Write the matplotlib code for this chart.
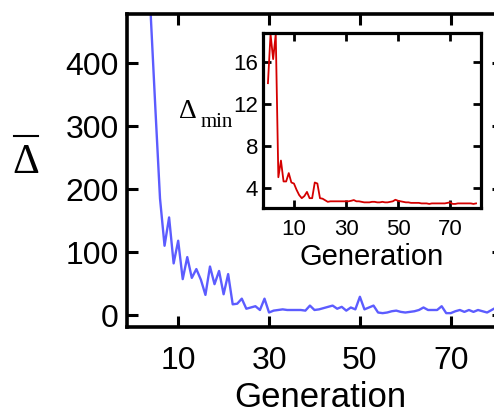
import matplotlib
matplotlib.use("Agg")
import matplotlib.pyplot as plt
from matplotlib.lines import Line2D
import numpy as np

generations = list(range(0, 81))
delta_mean = [2000, 1500, 1000, 700, 470, 325, 185, 110, 155, 82,
              118, 57, 92, 59, 73, 56, 32, 77, 49, 70,
              33, 65, 17, 18, 26, 10, 12, 14, 8, 26,
              4, 7, 8, 9, 8, 8, 8, 8, 7, 15,
              8, 9, 11, 13, 15, 10, 13, 7, 12, 9,
              29, 9, 12, 15, 4, 3, 4, 6, 7, 5,
              4, 5, 6, 8, 12, 8, 8, 8, 14, 3,
              3, 6, 8, 5, 8, 5, 8, 6, 4, 8, 12]
delta_min = [14.0, 18.7, 16.3, 18.7, 5.0, 6.6, 4.6, 4.6, 5.4, 4.5,
             4.4, 3.8, 3.3, 3.0, 3.2, 3.6, 3.0, 3.0, 4.5, 4.4,
             3.0, 2.95, 2.8, 2.65, 2.7, 2.7, 2.7, 2.7, 2.7, 2.7,
             2.7, 2.7, 2.75, 2.82, 2.7, 2.7, 2.65, 2.6, 2.6, 2.6,
             2.65, 2.65, 2.6, 2.6, 2.65, 2.6, 2.6, 2.65, 2.7, 2.85,
             2.75, 2.7, 2.65, 2.6, 2.6, 2.55, 2.55, 2.55, 2.55, 2.5,
             2.5, 2.5, 2.45, 2.5, 2.5, 2.5, 2.5, 2.5, 2.5, 2.55,
             2.6, 2.45, 2.45, 2.5, 2.5, 2.5, 2.5, 2.5, 2.5, 2.45, 2.5]

main_xticks = [10, 30, 50, 70]
main_yticks = [0, 100, 200, 300, 400]
inset_xticks = [10, 30, 50, 70]
inset_yticks = [4, 8, 12, 16]

W, H = 494, 415
fig = plt.figure(figsize=(W / 100, H / 100), dpi=100)
sans = "Liberation Sans"
serif = "Liberation Serif"

def fx(px):
    return px / W

def fy(py):
    return 1 - py / H

# Main axes
ax = fig.add_axes([fx(127.3), fy(327), fx(503) - fx(127.3), fy(14) - fy(327)])
ax.plot(generations, delta_mean, color="#5c5cff", lw=1.7, clip_on=True)
ax.set_xlim(-1.2, 81.5)
ax.set_ylim(-19, 478)
ax.set_xticks(main_xticks)
ax.set_yticks(main_yticks)
ax.tick_params(direction="in", length=8, width=2.2, top=True, right=True,
               labelsize=23, pad=6)
ax.tick_params(axis="x", pad=14)
for lab in ax.get_xticklabels() + ax.get_yticklabels():
    lab.set_fontfamily(sans)
for s in ax.spines.values():
    s.set_linewidth(2.6)
ax.set_xlabel("Generation", fontsize=25, fontfamily=sans, va="baseline")
ax.xaxis.set_label_coords(0.515, -0.254)

# Y label: Delta with overbar
fig.text(fx(26), fy(173), "Δ", fontsize=30, fontfamily=serif,
         ha="center", va="baseline")
fig.add_artist(Line2D([fx(14), fx(38)], [fy(135.7), fy(135.7)],
                      color="black", lw=1.5))

# Inset axes
axi = fig.add_axes([fx(263), fy(208), fx(481) - fx(263), fy(33) - fy(208)])
axi.set_facecolor("white")
axi.plot(generations, delta_min, color="#d40000", lw=1.3)
axi.set_xlim(-1.9, 81.9)
axi.set_ylim(2.06, 18.8)
axi.set_xticks(inset_xticks)
axi.set_yticks(inset_yticks)
axi.tick_params(direction="in", length=6, width=2.0, top=True, right=True,
                labelsize=16, pad=3.5)
axi.tick_params(axis="x", pad=8)
for lab in axi.get_xticklabels() + axi.get_yticklabels():
    lab.set_fontfamily(sans)
for s in axi.spines.values():
    s.set_linewidth(2.3)
axi.set_xlabel("Generation", fontsize=21, fontfamily=sans, va="baseline")
axi.xaxis.set_label_coords(0.5, -0.326)

fig.text(fx(179), fy(118.3), "Δ", fontsize=20, fontfamily=serif,
         ha="left", va="baseline")
fig.text(fx(200.5), fy(126.7), "min", fontsize=15, fontfamily=serif,
         ha="left", va="baseline")

fig.savefig("out.png", dpi=100)
